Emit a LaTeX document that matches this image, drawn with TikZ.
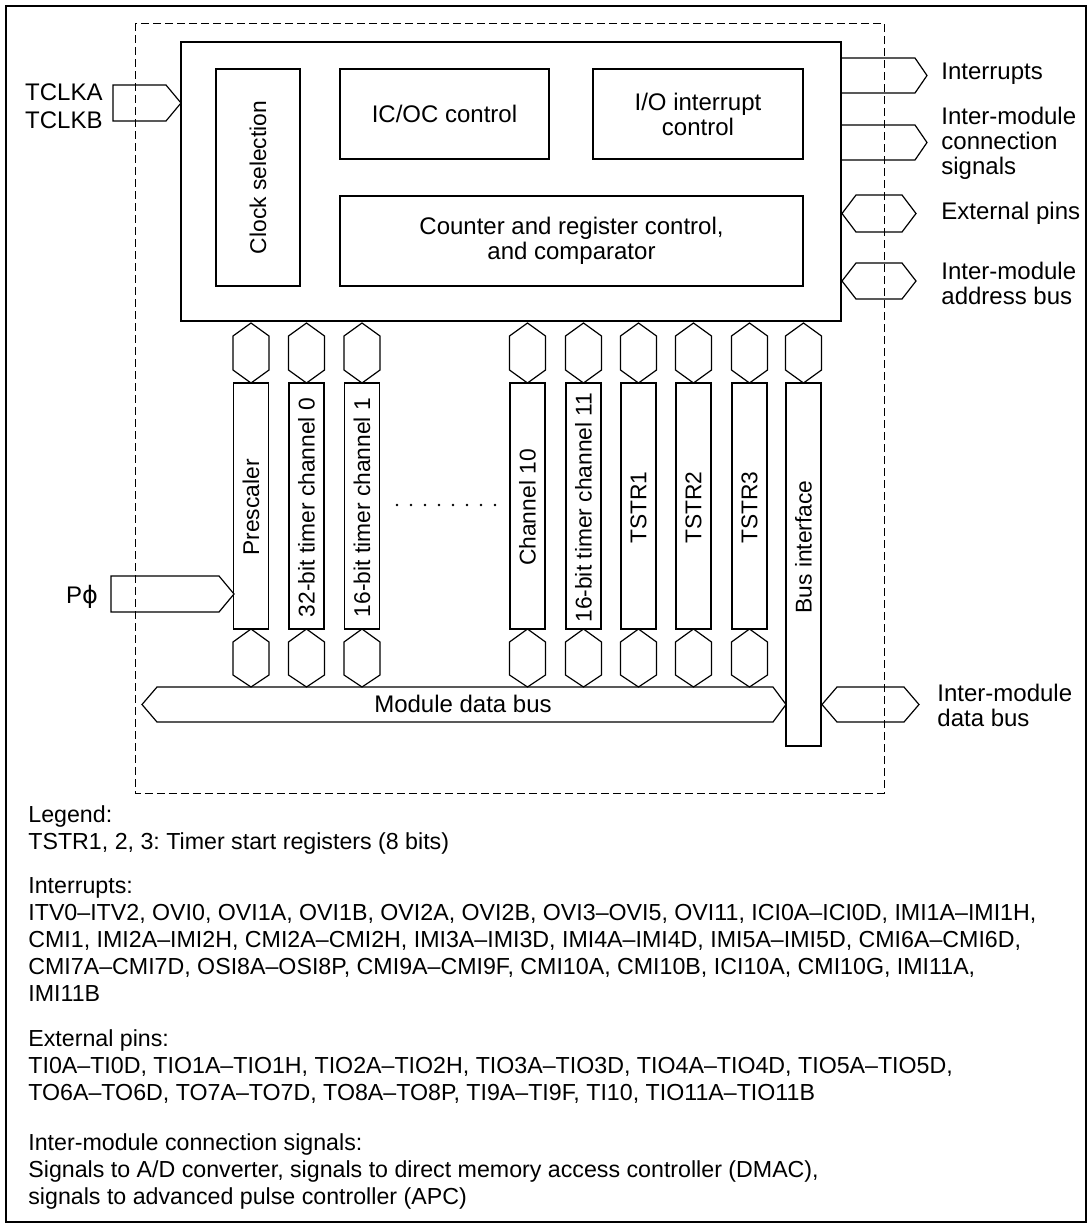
\documentclass[tikz,border=0pt]{standalone}
\usepackage{fontspec}
\setmainfont{Liberation Sans}
\newfontfamily\symfont{DejaVu Sans}
\frenchspacing

\begin{document}
\begin{tikzpicture}[x=0.5pt,y=-0.5pt,line join=miter,
    box/.style={draw=black, line width=0.6pt},
    bus/.style={draw=black, line width=0.6pt},
    lbl/.style={font=\fontsize{12}{12.5}\selectfont, inner sep=0pt},
    vlbl/.style={font=\fontsize{11.4}{12}\selectfont, inner sep=0pt, rotate=90},
    legend/.style={font=\fontsize{11.6}{14}\selectfont, inner sep=0pt, anchor=base west}]
  \useasboundingbox (0,0) rectangle (1092,1228);
  % frame and module boundary
  \draw[line width=1.2pt] (6,6) rectangle (1086,1222);
  \draw[line width=0.5pt, dash pattern=on 4pt off 2pt] (135,23) rectangle (884,793);
  % control block
  \draw[line width=0.8pt] (181,42) rectangle (841,321);
  \draw[box] (216,69) rectangle (300,286);
  \node[vlbl] (clksel) at (258,177.5) {Clock selection};
  \draw[box] (340,69) rectangle (549,159);
  \node[lbl] (icoc) at (444.5,114) {IC/OC control};
  \draw[box] (593,69) rectangle (803,159);
  \node[lbl, align=center] (iointr) at (698,114) {I/O interrupt\\control};
  \draw[box] (340,196) rectangle (803,286);
  \node[lbl, align=center] (cntreg) at (571.5,241) {Counter and register control,\\and comparator};

  % input clocks
  \draw[bus] (113,85) -- (166,85) -- (181,103) -- (166,121) -- (113,121) -- cycle;
  \node[lbl, align=right, anchor=east, font=\fontsize{12}{14}\selectfont] (tclk) at (103,106) {TCLKA\\TCLKB};
  \draw[bus] (111,576) -- (219,576) -- (234,594) -- (219,612) -- (111,612) -- cycle;
  \node[lbl] (pphi) at (82,597) {P{\symfont ϕ}};

  % outputs and pins on the right
  \draw[bus] (841,58) -- (915,58) -- (927,75.5) -- (915,93) -- (841,93);
  \node[lbl, anchor=west] (intr) at (941,74) {Interrupts};
  \draw[bus] (841,125) -- (915,125) -- (927,142.5) -- (915,160) -- (841,160);
  \node[lbl, anchor=west, align=left] (conn) at (941,143) {Inter-module\\connection\\signals};
  \draw[bus] (842,213.5) -- (856,195) -- (902,195) -- (916,213.5) -- (902,232) -- (856,232) -- cycle;
  \node[lbl, anchor=west] (extpins) at (941,213) {External pins};
  \draw[bus] (842,281) -- (856,263) -- (902,263) -- (916,281) -- (902,299) -- (856,299) -- cycle;
  \node[lbl, anchor=west, align=left] (addrbus) at (941,283) {Inter-module\\address bus};

  % channel units
  \foreach \c/\t [count=\i] in {251/Prescaler, 306.5/32-bit timer channel 0, 362/16-bit timer channel 1,
      527.5/Channel 10, 583.5/16-bit timer channel 11, 638.5/TSTR1, 693.5/TSTR2, 749.5/TSTR3} {
    \draw[bus] (\c,323) -- ++(18,13) -- ++(0,34) -- (\c,383) -- ++(-18,-13) -- ++(0,-34) -- cycle;
    \draw[box] (\c-17.5,383) rectangle (\c+17.5,629);
    \node[vlbl] (unit\i) at (\c,507.5) {\t};
    \draw[bus] (\c,629) -- ++(18,13) -- ++(0,33) -- (\c,687) -- ++(-18,-12) -- ++(0,-33) -- cycle;
  }
  \foreach \i in {0,...,7}
    \fill (397+14*\i,505) circle (1.3);

  % bus interface
  \draw[bus] (803.5,323) -- ++(18,13) -- ++(0,34) -- (803.5,383) -- ++(-18,-13) -- ++(0,-34) -- cycle;
  \draw[box] (786,383) rectangle (821,746);
  \node[vlbl] (busif) at (803.5,547) {Bus interface};

  % data buses
  \draw[bus] (142,704.5) -- (157,687) -- (773,687) -- (786,704.5) -- (773,722) -- (157,722) -- cycle;
  \node[lbl] (moddata) at (463,704) {Module data bus};
  \draw[bus] (822,704.5) -- (837,687) -- (904,687) -- (919,704.5) -- (904,722) -- (837,722) -- cycle;
  \node[lbl, anchor=west, align=left] (databus) at (937,705) {Inter-module\\data bus};

  % legend
  \node[legend] (leg1) at (28,822) {Legend:};
  \node[legend] (leg2) at (28,849) {TSTR1, 2, 3: Timer start registers (8 bits)};
  \node[legend] (int1) at (28,893) {Interrupts:};
  \node[legend] (int2) at (28,920) {ITV0--ITV2, OVI0, OVI1A, OVI1B, OVI2A, OVI2B, OVI3--OVI5, OVI11, ICI0A--ICI0D, IMI1A--IMI1H,};
  \node[legend] (int3) at (28,947) {CMI1, IMI2A--IMI2H, CMI2A--CMI2H, IMI3A--IMI3D, IMI4A--IMI4D, IMI5A--IMI5D, CMI6A--CMI6D,};
  \node[legend] (int4) at (28,974) {CMI7A--CMI7D, OSI8A--OSI8P, CMI9A--CMI9F, CMI10A, CMI10B, ICI10A, CMI10G, IMI11A,};
  \node[legend] (int5) at (28,1001) {IMI11B};
  \node[legend] (pin1) at (28,1046) {External pins:};
  \node[legend] (pin2) at (28,1073) {TI0A--TI0D, TIO1A--TIO1H, TIO2A--TIO2H, TIO3A--TIO3D, TIO4A--TIO4D, TIO5A--TIO5D,};
  \node[legend] (pin3) at (28,1100) {TO6A--TO6D, TO7A--TO7D, TO8A--TO8P, TI9A--TI9F, TI10, TIO11A--TIO11B};
  \node[legend] (sig1) at (28,1150) {Inter-module connection signals:};
  \node[legend] (sig2) at (28,1177) {Signals to A/D converter, signals to direct memory access controller (DMAC),};
  \node[legend] (sig3) at (28,1204) {signals to advanced pulse controller (APC)};
\end{tikzpicture}
\end{document}
